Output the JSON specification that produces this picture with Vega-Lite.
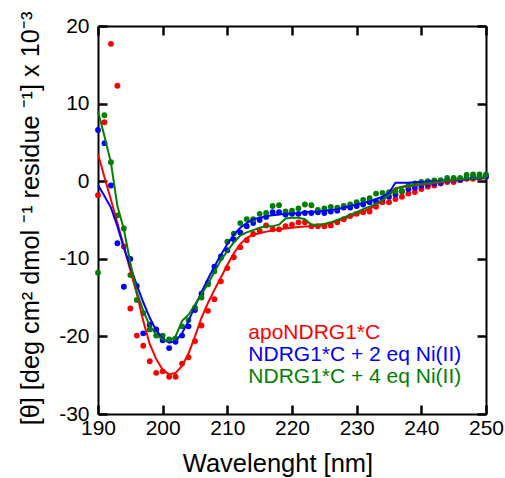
{
  "$schema": "https://vega.github.io/schema/vega-lite/v6.json",
  "width": 388,
  "height": 388,
  "autosize": {"type": "none"},
  "padding": {"left": 98, "top": 26, "right": 19, "bottom": 64},
  "background": "white",
  "view": {"stroke": null},
  "config": {
    "font": "Liberation Sans",
    "axis": {
      "grid": false,
      "domainColor": "black",
      "domainWidth": 2,
      "labelFlush": false,
      "labelFont": "Liberation Sans",
      "labelFontSize": 21,
      "labelColor": "black",
      "titleFont": "Liberation Sans",
      "titleFontWeight": "normal",
      "titleColor": "black"
    },
    "legend": {"labelFont": "Liberation Sans"}
  },
  "datasets": {
    "measured": [
      {"series":"apo","wl":190,"theta":-1.8},{"series":"apo","wl":191,"theta":7.6},{"series":"apo","wl":192,"theta":17.7},{"series":"apo","wl":193,"theta":12.3},{"series":"apo","wl":194,"theta":-8.4},{"series":"apo","wl":195,"theta":-16.4},{"series":"apo","wl":196,"theta":-19.9},{"series":"apo","wl":197,"theta":-21.2},{"series":"apo","wl":198,"theta":-23.2},{"series":"apo","wl":199,"theta":-24.7},{"series":"apo","wl":200,"theta":-24.5},{"series":"apo","wl":201,"theta":-25.2},{"series":"apo","wl":202,"theta":-25.2},{"series":"apo","wl":203,"theta":-23.5},{"series":"apo","wl":204,"theta":-22.7},{"series":"apo","wl":205,"theta":-20.6},{"series":"apo","wl":206,"theta":-18.6},{"series":"apo","wl":207,"theta":-16.7},{"series":"apo","wl":208,"theta":-15.2},{"series":"apo","wl":209,"theta":-12.9},{"series":"apo","wl":210,"theta":-11.2},{"series":"apo","wl":211,"theta":-9.8},{"series":"apo","wl":212,"theta":-8.5},{"series":"apo","wl":213,"theta":-7.6},{"series":"apo","wl":214,"theta":-6.8},{"series":"apo","wl":215,"theta":-6.4},{"series":"apo","wl":216,"theta":-5.7},{"series":"apo","wl":217,"theta":-6.2},{"series":"apo","wl":218,"theta":-6.2},{"series":"apo","wl":219,"theta":-5.8},{"series":"apo","wl":220,"theta":-5.6},{"series":"apo","wl":221,"theta":-5.3},{"series":"apo","wl":222,"theta":-5.3},{"series":"apo","wl":223,"theta":-5.8},{"series":"apo","wl":224,"theta":-5.8},{"series":"apo","wl":225,"theta":-5.8},{"series":"apo","wl":226,"theta":-5.7},{"series":"apo","wl":227,"theta":-5.3},{"series":"apo","wl":228,"theta":-4.9},{"series":"apo","wl":229,"theta":-4.5},{"series":"apo","wl":230,"theta":-4.2},{"series":"apo","wl":231,"theta":-4.0},{"series":"apo","wl":232,"theta":-3.9},{"series":"apo","wl":233,"theta":-3.3},{"series":"apo","wl":234,"theta":-2.7},{"series":"apo","wl":235,"theta":-2.7},{"series":"apo","wl":236,"theta":-2.3},{"series":"apo","wl":237,"theta":-2.0},{"series":"apo","wl":238,"theta":-1.6},{"series":"apo","wl":239,"theta":-1.4},{"series":"apo","wl":240,"theta":-1.0},{"series":"apo","wl":241,"theta":-0.7},{"series":"apo","wl":242,"theta":-0.55},{"series":"apo","wl":243,"theta":-0.3},{"series":"apo","wl":244,"theta":-0.1},{"series":"apo","wl":245,"theta":-0.1},{"series":"apo","wl":246,"theta":0.13},{"series":"apo","wl":247,"theta":0.3},{"series":"apo","wl":248,"theta":0.3},{"series":"apo","wl":249,"theta":0.43},{"series":"apo","wl":250,"theta":0.56},
      {"series":"ni2","wl":190,"theta":6.6},{"series":"ni2","wl":191,"theta":4.9},{"series":"ni2","wl":192,"theta":-0.55},{"series":"ni2","wl":193,"theta":-8.0},{"series":"ni2","wl":194,"theta":-13.6},{"series":"ni2","wl":195,"theta":-10.0},{"series":"ni2","wl":196,"theta":-13.5},{"series":"ni2","wl":197,"theta":-19.6},{"series":"ni2","wl":198,"theta":-18.5},{"series":"ni2","wl":199,"theta":-19.1},{"series":"ni2","wl":200,"theta":-20.5},{"series":"ni2","wl":201,"theta":-21.5},{"series":"ni2","wl":202,"theta":-20.7},{"series":"ni2","wl":203,"theta":-19.9},{"series":"ni2","wl":204,"theta":-18.7},{"series":"ni2","wl":205,"theta":-16.6},{"series":"ni2","wl":206,"theta":-14.5},{"series":"ni2","wl":207,"theta":-13.1},{"series":"ni2","wl":208,"theta":-11.0},{"series":"ni2","wl":209,"theta":-9.7},{"series":"ni2","wl":210,"theta":-8.9},{"series":"ni2","wl":211,"theta":-7.5},{"series":"ni2","wl":212,"theta":-6.6},{"series":"ni2","wl":213,"theta":-5.8},{"series":"ni2","wl":214,"theta":-5.4},{"series":"ni2","wl":215,"theta":-5.0},{"series":"ni2","wl":216,"theta":-4.6},{"series":"ni2","wl":217,"theta":-4.0},{"series":"ni2","wl":218,"theta":-4.0},{"series":"ni2","wl":219,"theta":-4.3},{"series":"ni2","wl":220,"theta":-4.2},{"series":"ni2","wl":221,"theta":-4.2},{"series":"ni2","wl":222,"theta":-4.1},{"series":"ni2","wl":223,"theta":-4.1},{"series":"ni2","wl":224,"theta":-4.0},{"series":"ni2","wl":225,"theta":-4.1},{"series":"ni2","wl":226,"theta":-3.9},{"series":"ni2","wl":227,"theta":-3.8},{"series":"ni2","wl":228,"theta":-3.4},{"series":"ni2","wl":229,"theta":-3.4},{"series":"ni2","wl":230,"theta":-3.2},{"series":"ni2","wl":231,"theta":-3.0},{"series":"ni2","wl":232,"theta":-2.7},{"series":"ni2","wl":233,"theta":-2.6},{"series":"ni2","wl":234,"theta":-2.3},{"series":"ni2","wl":235,"theta":-2.0},{"series":"ni2","wl":236,"theta":-1.7},{"series":"ni2","wl":237,"theta":-1.3},{"series":"ni2","wl":238,"theta":-1.0},{"series":"ni2","wl":239,"theta":-0.85},{"series":"ni2","wl":240,"theta":-0.6},{"series":"ni2","wl":241,"theta":-0.4},{"series":"ni2","wl":242,"theta":-0.3},{"series":"ni2","wl":243,"theta":-0.2},{"series":"ni2","wl":244,"theta":0.1},{"series":"ni2","wl":245,"theta":0.2},{"series":"ni2","wl":246,"theta":0.2},{"series":"ni2","wl":247,"theta":0.4},{"series":"ni2","wl":248,"theta":0.5},{"series":"ni2","wl":249,"theta":0.6},{"series":"ni2","wl":250,"theta":0.6},
      {"series":"ni4","wl":190,"theta":-11.8},{"series":"ni4","wl":191,"theta":8.5},{"series":"ni4","wl":192,"theta":2.45},{"series":"ni4","wl":193,"theta":-4.4},{"series":"ni4","wl":194,"theta":-6.1},{"series":"ni4","wl":195,"theta":-12.1},{"series":"ni4","wl":196,"theta":-15.3},{"series":"ni4","wl":197,"theta":-17.0},{"series":"ni4","wl":198,"theta":-19.1},{"series":"ni4","wl":199,"theta":-19.9},{"series":"ni4","wl":200,"theta":-19.9},{"series":"ni4","wl":201,"theta":-20.4},{"series":"ni4","wl":202,"theta":-20.3},{"series":"ni4","wl":203,"theta":-18.7},{"series":"ni4","wl":204,"theta":-17.9},{"series":"ni4","wl":205,"theta":-16.3},{"series":"ni4","wl":206,"theta":-15.0},{"series":"ni4","wl":207,"theta":-13.3},{"series":"ni4","wl":208,"theta":-11.6},{"series":"ni4","wl":209,"theta":-9.9},{"series":"ni4","wl":210,"theta":-7.8},{"series":"ni4","wl":211,"theta":-6.75},{"series":"ni4","wl":212,"theta":-5.4},{"series":"ni4","wl":213,"theta":-4.9},{"series":"ni4","wl":214,"theta":-4.9},{"series":"ni4","wl":215,"theta":-4.2},{"series":"ni4","wl":216,"theta":-4.1},{"series":"ni4","wl":217,"theta":-3.2},{"series":"ni4","wl":218,"theta":-3.1},{"series":"ni4","wl":219,"theta":-3.9},{"series":"ni4","wl":220,"theta":-3.8},{"series":"ni4","wl":221,"theta":-3.5},{"series":"ni4","wl":222,"theta":-3.0},{"series":"ni4","wl":223,"theta":-3.1},{"series":"ni4","wl":224,"theta":-3.7},{"series":"ni4","wl":225,"theta":-3.5},{"series":"ni4","wl":226,"theta":-3.3},{"series":"ni4","wl":227,"theta":-3.4},{"series":"ni4","wl":228,"theta":-3.2},{"series":"ni4","wl":229,"theta":-3.0},{"series":"ni4","wl":230,"theta":-2.7},{"series":"ni4","wl":231,"theta":-2.4},{"series":"ni4","wl":232,"theta":-2.2},{"series":"ni4","wl":233,"theta":-1.6},{"series":"ni4","wl":234,"theta":-1.5},{"series":"ni4","wl":235,"theta":-1.4},{"series":"ni4","wl":236,"theta":-1.3},{"series":"ni4","wl":237,"theta":-1.3},{"series":"ni4","wl":238,"theta":-0.55},{"series":"ni4","wl":239,"theta":-0.3},{"series":"ni4","wl":240,"theta":-0.1},{"series":"ni4","wl":241,"theta":0.0},{"series":"ni4","wl":242,"theta":0.1},{"series":"ni4","wl":243,"theta":0.13},{"series":"ni4","wl":244,"theta":0.43},{"series":"ni4","wl":245,"theta":0.43},{"series":"ni4","wl":246,"theta":0.43},{"series":"ni4","wl":247,"theta":0.8},{"series":"ni4","wl":248,"theta":0.87},{"series":"ni4","wl":249,"theta":0.87},{"series":"ni4","wl":250,"theta":0.87}
    ],
    "fit": [
      {"series":"apo","wl":190,"theta":3.5},{"series":"apo","wl":191,"theta":0.5},{"series":"apo","wl":192,"theta":-2.4},{"series":"apo","wl":193,"theta":-5.4},{"series":"apo","wl":194,"theta":-8.4},{"series":"apo","wl":195,"theta":-11.5},{"series":"apo","wl":196,"theta":-14.5},{"series":"apo","wl":197,"theta":-18.0},{"series":"apo","wl":198,"theta":-21.0},{"series":"apo","wl":199,"theta":-22.9},{"series":"apo","wl":200,"theta":-24.3},{"series":"apo","wl":201,"theta":-24.9},{"series":"apo","wl":202,"theta":-24.7},{"series":"apo","wl":203,"theta":-23.8},{"series":"apo","wl":204,"theta":-22.2},{"series":"apo","wl":205,"theta":-20.0},{"series":"apo","wl":206,"theta":-17.6},{"series":"apo","wl":207,"theta":-15.7},{"series":"apo","wl":208,"theta":-14.0},{"series":"apo","wl":209,"theta":-12.4},{"series":"apo","wl":210,"theta":-10.8},{"series":"apo","wl":211,"theta":-9.3},{"series":"apo","wl":212,"theta":-8.1},{"series":"apo","wl":213,"theta":-7.3},{"series":"apo","wl":214,"theta":-6.9},{"series":"apo","wl":215,"theta":-6.7},{"series":"apo","wl":216,"theta":-6.5},{"series":"apo","wl":217,"theta":-6.35},{"series":"apo","wl":218,"theta":-6.2},{"series":"apo","wl":219,"theta":-6.1},{"series":"apo","wl":220,"theta":-6.0},{"series":"apo","wl":221,"theta":-5.9},{"series":"apo","wl":222,"theta":-5.85},{"series":"apo","wl":223,"theta":-5.8},{"series":"apo","wl":224,"theta":-5.7},{"series":"apo","wl":225,"theta":-5.55},{"series":"apo","wl":226,"theta":-5.4},{"series":"apo","wl":227,"theta":-5.15},{"series":"apo","wl":228,"theta":-4.85},{"series":"apo","wl":229,"theta":-4.55},{"series":"apo","wl":230,"theta":-4.25},{"series":"apo","wl":231,"theta":-3.9},{"series":"apo","wl":232,"theta":-3.55},{"series":"apo","wl":233,"theta":-3.1},{"series":"apo","wl":234,"theta":-2.5},{"series":"apo","wl":235,"theta":-1.6},{"series":"apo","wl":236,"theta":-0.9},{"series":"apo","wl":237,"theta":-0.75},{"series":"apo","wl":238,"theta":-0.65},{"series":"apo","wl":239,"theta":-0.55},{"series":"apo","wl":240,"theta":-0.45},{"series":"apo","wl":241,"theta":-0.35},{"series":"apo","wl":242,"theta":-0.25},{"series":"apo","wl":243,"theta":-0.15},{"series":"apo","wl":244,"theta":-0.05},{"series":"apo","wl":245,"theta":0.05},{"series":"apo","wl":246,"theta":0.15},{"series":"apo","wl":247,"theta":0.2},{"series":"apo","wl":248,"theta":0.3},{"series":"apo","wl":249,"theta":0.35},{"series":"apo","wl":250,"theta":0.4},
      {"series":"ni2","wl":190,"theta":-0.5},{"series":"ni2","wl":191,"theta":-1.9},{"series":"ni2","wl":192,"theta":-3.4},{"series":"ni2","wl":193,"theta":-5.8},{"series":"ni2","wl":194,"theta":-8.6},{"series":"ni2","wl":195,"theta":-11.0},{"series":"ni2","wl":196,"theta":-13.4},{"series":"ni2","wl":197,"theta":-15.6},{"series":"ni2","wl":198,"theta":-17.6},{"series":"ni2","wl":199,"theta":-19.2},{"series":"ni2","wl":200,"theta":-20.3},{"series":"ni2","wl":201,"theta":-20.8},{"series":"ni2","wl":202,"theta":-20.6},{"series":"ni2","wl":203,"theta":-19.6},{"series":"ni2","wl":204,"theta":-18.0},{"series":"ni2","wl":205,"theta":-16.1},{"series":"ni2","wl":206,"theta":-14.3},{"series":"ni2","wl":207,"theta":-12.6},{"series":"ni2","wl":208,"theta":-11.0},{"series":"ni2","wl":209,"theta":-9.5},{"series":"ni2","wl":210,"theta":-8.1},{"series":"ni2","wl":211,"theta":-6.9},{"series":"ni2","wl":212,"theta":-6.0},{"series":"ni2","wl":213,"theta":-5.4},{"series":"ni2","wl":214,"theta":-4.9},{"series":"ni2","wl":215,"theta":-4.7},{"series":"ni2","wl":216,"theta":-4.5},{"series":"ni2","wl":217,"theta":-4.4},{"series":"ni2","wl":218,"theta":-4.3},{"series":"ni2","wl":219,"theta":-4.2},{"series":"ni2","wl":220,"theta":-4.15},{"series":"ni2","wl":221,"theta":-4.1},{"series":"ni2","wl":222,"theta":-4.0},{"series":"ni2","wl":223,"theta":-3.95},{"series":"ni2","wl":224,"theta":-3.9},{"series":"ni2","wl":225,"theta":-3.8},{"series":"ni2","wl":226,"theta":-3.7},{"series":"ni2","wl":227,"theta":-3.6},{"series":"ni2","wl":228,"theta":-3.4},{"series":"ni2","wl":229,"theta":-3.2},{"series":"ni2","wl":230,"theta":-3.0},{"series":"ni2","wl":231,"theta":-2.8},{"series":"ni2","wl":232,"theta":-2.6},{"series":"ni2","wl":233,"theta":-2.3},{"series":"ni2","wl":234,"theta":-2.0},{"series":"ni2","wl":235,"theta":-1.5},{"series":"ni2","wl":236,"theta":-0.2},{"series":"ni2","wl":237,"theta":-0.2},{"series":"ni2","wl":238,"theta":-0.2},{"series":"ni2","wl":239,"theta":-0.15},{"series":"ni2","wl":240,"theta":-0.1},{"series":"ni2","wl":241,"theta":-0.05},{"series":"ni2","wl":242,"theta":0.0},{"series":"ni2","wl":243,"theta":0.05},{"series":"ni2","wl":244,"theta":0.1},{"series":"ni2","wl":245,"theta":0.15},{"series":"ni2","wl":246,"theta":0.2},{"series":"ni2","wl":247,"theta":0.25},{"series":"ni2","wl":248,"theta":0.3},{"series":"ni2","wl":249,"theta":0.35},{"series":"ni2","wl":250,"theta":0.4},
      {"series":"ni4","wl":190,"theta":9.0},{"series":"ni4","wl":191,"theta":5.8},{"series":"ni4","wl":192,"theta":2.4},{"series":"ni4","wl":193,"theta":-3.2},{"series":"ni4","wl":194,"theta":-6.2},{"series":"ni4","wl":195,"theta":-10.5},{"series":"ni4","wl":196,"theta":-14.3},{"series":"ni4","wl":197,"theta":-16.7},{"series":"ni4","wl":198,"theta":-18.6},{"series":"ni4","wl":199,"theta":-19.8},{"series":"ni4","wl":200,"theta":-20.4},{"series":"ni4","wl":201,"theta":-20.6},{"series":"ni4","wl":202,"theta":-20.0},{"series":"ni4","wl":203,"theta":-18.0},{"series":"ni4","wl":204,"theta":-17.2},{"series":"ni4","wl":205,"theta":-15.9},{"series":"ni4","wl":206,"theta":-14.6},{"series":"ni4","wl":207,"theta":-13.2},{"series":"ni4","wl":208,"theta":-11.7},{"series":"ni4","wl":209,"theta":-10.2},{"series":"ni4","wl":210,"theta":-9.0},{"series":"ni4","wl":211,"theta":-7.9},{"series":"ni4","wl":212,"theta":-7.0},{"series":"ni4","wl":213,"theta":-6.6},{"series":"ni4","wl":214,"theta":-6.3},{"series":"ni4","wl":215,"theta":-6.0},{"series":"ni4","wl":216,"theta":-5.8},{"series":"ni4","wl":217,"theta":-5.8},{"series":"ni4","wl":218,"theta":-5.6},{"series":"ni4","wl":219,"theta":-4.8},{"series":"ni4","wl":220,"theta":-4.7},{"series":"ni4","wl":221,"theta":-4.7},{"series":"ni4","wl":222,"theta":-4.9},{"series":"ni4","wl":223,"theta":-5.6},{"series":"ni4","wl":224,"theta":-5.6},{"series":"ni4","wl":225,"theta":-5.5},{"series":"ni4","wl":226,"theta":-5.3},{"series":"ni4","wl":227,"theta":-5.0},{"series":"ni4","wl":228,"theta":-4.7},{"series":"ni4","wl":229,"theta":-4.3},{"series":"ni4","wl":230,"theta":-4.0},{"series":"ni4","wl":231,"theta":-3.6},{"series":"ni4","wl":232,"theta":-3.3},{"series":"ni4","wl":233,"theta":-2.9},{"series":"ni4","wl":234,"theta":-2.4},{"series":"ni4","wl":235,"theta":-1.8},{"series":"ni4","wl":236,"theta":-1.0},{"series":"ni4","wl":237,"theta":-0.7},{"series":"ni4","wl":238,"theta":-0.55},{"series":"ni4","wl":239,"theta":-0.45},{"series":"ni4","wl":240,"theta":-0.35},{"series":"ni4","wl":241,"theta":-0.25},{"series":"ni4","wl":242,"theta":-0.15},{"series":"ni4","wl":243,"theta":-0.05},{"series":"ni4","wl":244,"theta":0.05},{"series":"ni4","wl":245,"theta":0.15},{"series":"ni4","wl":246,"theta":0.25},{"series":"ni4","wl":247,"theta":0.3},{"series":"ni4","wl":248,"theta":0.35},{"series":"ni4","wl":249,"theta":0.4},{"series":"ni4","wl":250,"theta":0.45}
    ]
  },
  "layer": [
    {
      "data": {"name": "measured"},
      "mark": {"type": "circle", "size": 34, "opacity": 1},
      "encoding": {
        "x": {
          "field": "wl", "type": "quantitative",
          "scale": {"domain": [190, 250], "nice": false, "zero": false},
          "axis": {
            "orient": "bottom",
            "values": [190, 200, 210, 220, 230, 240, 250],
            "ticks": true,
            "tickSize": 0,
            "labelPadding": 3,
            "labelExpr": "'' + datum.value",
            "title": "Wavelenght [nm]",
            "titleFontSize": 25.5,
            "titleX": 179.5,
            "titleY": 57.7,
            "titleAlign": "center",
            "titleBaseline": "alphabetic"
          }
        },
        "y": {
          "field": "theta", "type": "quantitative",
          "scale": {"domain": [-30, 20], "nice": false, "zero": false},
          "axis": {
            "orient": "left",
            "values": [-30, -20, -10, 0, 10, 20],
            "ticks": true,
            "tickSize": 0,
            "labelPadding": 9,
            "labelExpr": "'' + datum.value",
            "title": "[θ] [deg cm² dmol ⁻¹ residue ⁻¹] x 10⁻³",
            "titleFontSize": 25.3,
            "titleX": -60,
            "titleY": 192,
            "titleAngle": -90,
            "titleAlign": "center",
            "titleBaseline": "alphabetic"
          }
        },
        "color": {
          "field": "series", "type": "nominal",
          "scale": {"domain": ["apo", "ni2", "ni4"], "range": ["#ff0000", "#0000ff", "#008000"]},
          "legend": {
            "orient": "none",
            "legendX": 129.3,
            "legendY": 296,
            "title": null,
            "padding": 0,
            "offset": 0,
            "symbolSize": 0,
            "symbolStrokeWidth": 0,
            "symbolOpacity": 0,
            "labelOffset": 0,
            "labelFontSize": 21,
            "rowPadding": 0,
            "labelExpr": "datum.label == 'apo' ? 'apoNDRG1*C' : datum.label == 'ni2' ? 'NDRG1*C + 2 eq Ni(II)' : 'NDRG1*C + 4 eq Ni(II)'",
            "labelLimit": 400,
            "encode": {"labels": {"update": {"fill": {"scale": "color", "field": "value"}}}}
          }
        }
      }
    },
    {
      "data": {"name": "fit"},
      "transform": [{"filter": "datum.series != 'ni4'"}],
      "mark": {"type": "line", "strokeWidth": 2},
      "encoding": {
        "x": {
          "field": "wl", "type": "quantitative",
          "axis": {"orient": "top", "offset": -388, "tickCount": 6, "labels": false, "domain": false, "title": null, "tickSize": 9, "tickWidth": 2.5, "tickColor": "#000000"}
        },
        "y": {
          "field": "theta", "type": "quantitative",
          "axis": {"orient": "right", "offset": -388, "tickCount": 5, "labels": false, "domain": false, "title": null, "tickSize": 9, "tickWidth": 2.5, "tickColor": "#000000"}
        },
        "color": {"field": "series", "type": "nominal", "legend": null}
      }
    },
    {
      "data": {"name": "fit"},
      "transform": [{"filter": "datum.series == 'ni4'"}],
      "mark": {"type": "line", "strokeWidth": 2},
      "encoding": {
        "x": {
          "field": "wl", "type": "quantitative",
          "axis": {"orient": "bottom", "offset": -388, "tickCount": 6, "labels": false, "title": null, "tickSize": 9, "tickWidth": 2.5, "tickColor": "#000000"}
        },
        "y": {
          "field": "theta", "type": "quantitative",
          "axis": {"orient": "left", "offset": -388, "tickCount": 5, "labels": false, "title": null, "tickSize": 9, "tickWidth": 2.5, "tickColor": "#000000"}
        },
        "color": {"field": "series", "type": "nominal", "legend": null}
      }
    }
  ],
  "resolve": {"axis": {"x": "independent", "y": "independent"}}
}
